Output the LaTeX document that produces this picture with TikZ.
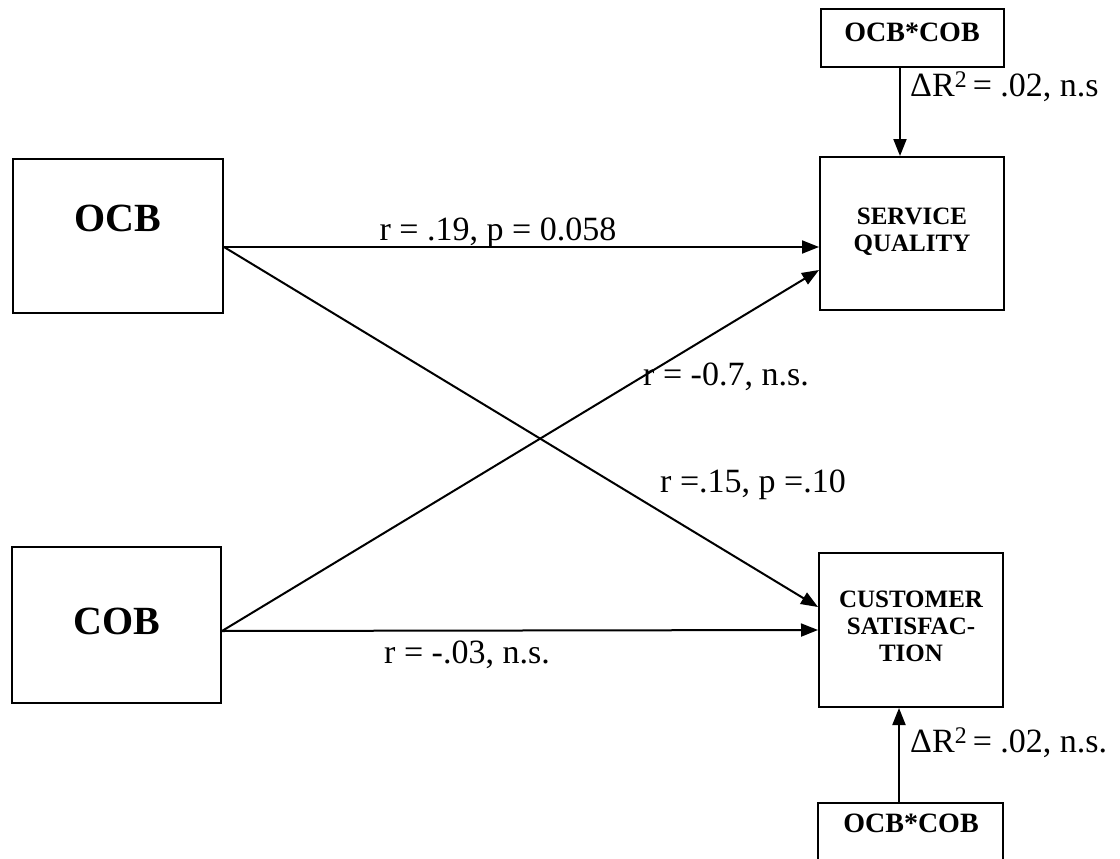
\documentclass[tikz,border=0pt]{standalone}
\usepackage{fontspec}
\setmainfont{Liberation Serif}
\usetikzlibrary{arrows.meta}
\begin{document}
\begin{tikzpicture}[x=1pt,y=-1pt,
 box/.style={draw, line width=2pt, inner sep=0pt},
 conn/.style={line width=2pt, -{Triangle[length=17pt,width=13pt]}},
 lbl/.style={font=\fontsize{34}{40}\selectfont, inner sep=0pt},
 big/.style={font=\fontsize{40}{44}\selectfont\bfseries, inner sep=0pt},
 small/.style={font=\fontsize{25}{27}\selectfont\bfseries, align=center, inner sep=0pt},
 mid/.style={font=\fontsize{28}{30}\selectfont\bfseries, inner sep=0pt}]
\useasboundingbox (0,0) rectangle (1120,859);
\clip (0,0) rectangle (1120,859);

% boxes
\node[box, minimum width=210pt, minimum height=154pt] (ocb) at (118,236) {};
\node[box, minimum width=209pt, minimum height=156pt] (cob) at (116.5,625) {};
\node[box, minimum width=184pt, minimum height=153pt] (sq) at (912,233.5) {};
\node[box, minimum width=184pt, minimum height=154pt] (cs) at (911,630) {};
\node[box, minimum width=183pt, minimum height=58pt] (int1) at (912.5,38) {};
\node[box, minimum width=185pt, minimum height=66pt] (int2) at (910.5,836) {};

% box texts
\node[big] (ocbt) at (118,218) {OCB};
\node[big] (cobt) at (117,621) {COB};
\node[small] (sqt) at (912,232) {SERVICE\\QUALITY};
\node[small] (cst) at (911,626) {CUSTOMER\\SATISFAC-\\TION};
\node[mid] (int1t) at (912,32) {OCB*COB};
\node[mid] (int2t) at (911,823) {OCB*COB};

% connectors
\draw[conn] ([yshift=-11pt]ocb.east) -- ([yshift=-13.5pt]sq.west);
\draw[conn] ([yshift=-11pt]ocb.east) -- ([yshift=23pt]cs.west);
\draw[conn] ([yshift=-6pt]cob.east) -- ([yshift=-36.5pt]sq.west);
\draw[conn] ([yshift=-6pt]cob.east) -- (cs.west);
\draw[conn] ([xshift=-12.5pt]int1.south) -- ([xshift=-12pt]sq.north);
\draw[conn] ([xshift=-11.5pt]int2.north) -- ([xshift=-12pt]cs.south);

% labels
\node[lbl] (l1) at (498,233) {r = .19, p = 0.058};
\node[lbl, anchor=west] (l2) at (643,377) {r = -0.7, n.s.};
\node[lbl, anchor=west] (l3) at (660,485) {r =.15, p =.10};
\node[lbl] (l4) at (467,655) {r = -.03, n.s.};
\node[lbl, anchor=west] (l5) at (910,87) {ΔR\textsuperscript{2}\,= .02, n.s};
\node[lbl, anchor=west] (l6) at (910,743) {ΔR\textsuperscript{2}\,= .02, n.s.};
\end{tikzpicture}
\end{document}
